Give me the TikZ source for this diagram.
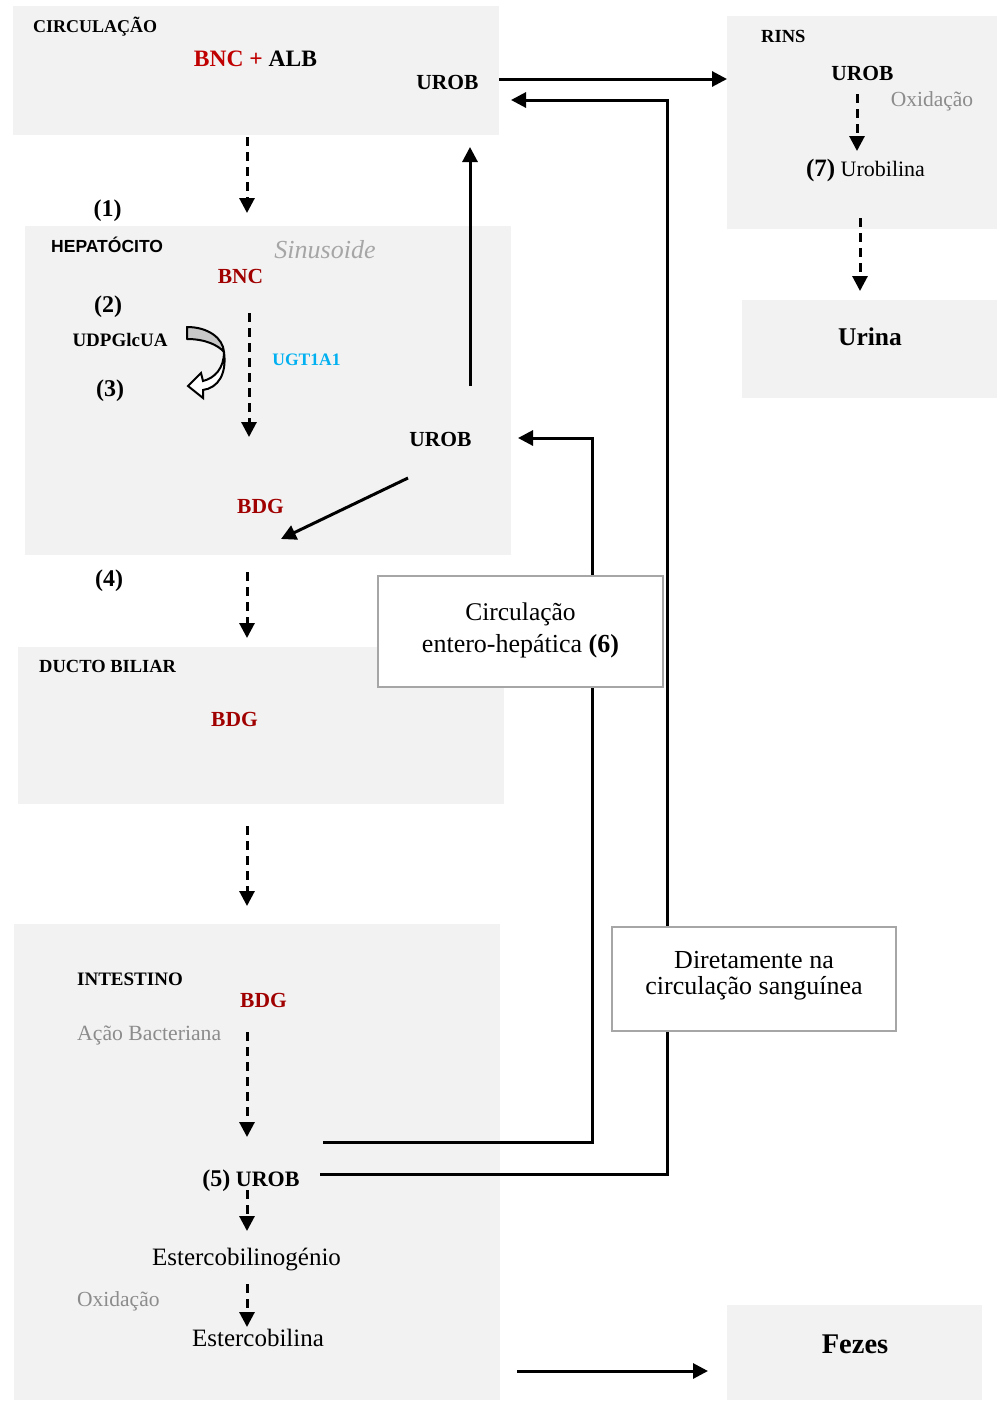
\documentclass[tikz,border=0pt]{standalone}
\usepackage{fontspec}
\setmainfont{Liberation Serif}
\newfontfamily\sansfont{Liberation Sans}
\usetikzlibrary{arrows.meta}
\definecolor{bgc}{HTML}{F2F2F2}
\definecolor{redA}{HTML}{C00000}
\definecolor{redB}{HTML}{A00000}
\definecolor{cyanc}{HTML}{00B0F0}
\definecolor{grayt}{HTML}{8C8C8C}
\definecolor{grays}{HTML}{A6A6A6}
\definecolor{bordc}{HTML}{A6A6A6}
\definecolor{arrgray}{HTML}{C8C8C8}
\newcommand\fs[1]{\fontsize{#1}{#1}\selectfont}
\begin{document}
\begin{tikzpicture}[x=1pt,y=-1pt,
  region/.style={fill=bgc, draw=none, inner sep=0pt},
  whitebox/.style={fill=white, draw=bordc, line width=2pt, inner sep=0pt},
  lbl/.style={anchor=base, inner sep=0pt},
  lblw/.style={anchor=base west, inner sep=0pt},
  dasharrow/.style={line width=3pt, dash pattern=on 9pt off 6pt, -{Triangle[length=15pt,width=15pt]}},
  solidarrow/.style={line width=3pt, -{Triangle[length=15pt,width=15pt]}},
]
\useasboundingbox (0,0) rectangle (1003,1401);
% regions
\node[region, minimum width=486pt, minimum height=129pt] (circ) at (256,70.5) {};
\node[region, minimum width=486pt, minimum height=329pt] (hep) at (268,390.5) {};
\node[region, minimum width=486pt, minimum height=157pt] (ducto) at (261,725.5) {};
\node[region, minimum width=486pt, minimum height=476pt] (intest) at (257,1162) {};
\node[region, minimum width=270pt, minimum height=213pt] (rins) at (862,122.5) {};
\node[region, minimum width=255pt, minimum height=98pt] (urinabox) at (869.5,349) {};
\node[region, minimum width=255pt, minimum height=95pt] (fezesbox) at (854.5,1352.5) {};
% coordinates
\coordinate (a1s) at (247,137); \coordinate (a1e) at (247,213);
\coordinate (a2s) at (249,313); \coordinate (a2e) at (249,437);
\coordinate (a3s) at (247,572); \coordinate (a3e) at (247,638);
\coordinate (a4s) at (247,826); \coordinate (a4e) at (247,906);
\coordinate (a5s) at (247,1032); \coordinate (a5e) at (247,1137);
\coordinate (a6s) at (247,1190); \coordinate (a6e) at (247,1231);
\coordinate (a7s) at (247,1284); \coordinate (a7e) at (247,1327);
\coordinate (r1s) at (857,94); \coordinate (r1e) at (857,151);
\coordinate (r2s) at (860,218); \coordinate (r2e) at (860,291);
\coordinate (k1s) at (499,79); \coordinate (k1e) at (727,79);
\coordinate (u1s) at (470,386); \coordinate (u1e) at (470,147);
\coordinate (u2s) at (408,478); \coordinate (u2e) at (281,539);
\coordinate (f1s) at (517,1371); \coordinate (f1e) at (708,1371);
\coordinate (e1s) at (323,1142); \coordinate (e1c) at (592,438); \coordinate (e1e) at (518,438);
\coordinate (d1s) at (320,1174); \coordinate (d1c) at (667,100); \coordinate (d1e) at (511,100);
% connectors
\draw[dasharrow] (a1s) -- (a1e);
\draw[dasharrow] (a2s) -- (a2e);
\draw[dasharrow] (a3s) -- (a3e);
\draw[dasharrow] (a4s) -- (a4e);
\draw[dasharrow] (a5s) -- (a5e);
\draw[dasharrow] (a6s) -- (a6e);
\draw[dasharrow] (a7s) -- (a7e);
\draw[dasharrow] (r1s) -- (r1e);
\draw[dasharrow] (r2s) -- (r2e);
\draw[solidarrow] (k1s) -- (k1e);
\draw[solidarrow] (u1s) -- (u1e);
\draw[solidarrow] (u2s) -- (u2e);
\draw[solidarrow] (f1s) -- (f1e);
\draw[solidarrow] (e1s) -| (e1c) -- (e1e);
\draw[solidarrow] (d1s) -| (d1c) -- (d1e);
% white boxes
\node[whitebox, minimum width=285pt, minimum height=111pt] (entbox) at (520.5,631.5) {};
\node[whitebox, minimum width=284pt, minimum height=104pt] (dirbox) at (754,979) {};
% curved block arrow
\draw[line width=2pt, fill=arrgray, line join=round] (187,327) .. controls (208,327) and (223,338) .. (224,352) .. controls (218,345) and (205,339) .. (187,339) -- cycle;
\draw[line width=2pt, fill=white, line join=miter] (224,352) .. controls (224,368) and (215,378) .. (203,381) -- (201,373) -- (188,386) -- (203,398) -- (203,390) .. controls (218,388) and (227,374) .. (224,352) -- cycle;
% texts
\node[lblw, font=\fs{18}\bfseries] (tcirc) at (33,32) {CIRCULAÇÃO};
\node[lbl, font=\fs{23.5}\bfseries] (bncalb) at (255.5,66) {\textcolor{redA}{BNC +} ALB};
\node[lbl, font=\fs{21.5}\bfseries] (urob1) at (447.5,89) {UROB};
\node[lbl, font=\fs{24}\bfseries] (n1) at (107.5,216) {(1)};
\node[lblw, font=\sansfont\fs{17.5}\bfseries] (thep) at (51,252) {HEPATÓCITO};
\node[lbl, font=\fs{26}\itshape, text=grays] (sinus) at (325,258) {Sinusoide};
\node[lbl, font=\fs{21.5}\bfseries, text=redB] (bnc) at (240.5,283) {BNC};
\node[lbl, font=\fs{24}\bfseries] (n2) at (108,312) {(2)};
\node[lbl, font=\fs{19}\bfseries] (udp) at (120,346) {UDPGlcUA};
\node[lbl, font=\fs{17.5}\bfseries, text=cyanc] (ugt) at (306.5,365.5) {UGT1A1};
\node[lbl, font=\fs{24}\bfseries] (n3) at (110,396) {(3)};
\node[lbl, font=\fs{21.5}\bfseries] (urob2) at (440.5,446.5) {UROB};
\node[lbl, font=\fs{21.5}\bfseries, text=redB] (bdg1) at (260.5,513) {BDG};
\node[lbl, font=\fs{24}\bfseries] (n4) at (109,586) {(4)};
\node[lblw, font=\fs{18.5}\bfseries] (tducto) at (39,672) {DUCTO BILIAR};
\node[lbl, font=\fs{21.5}\bfseries, text=redB] (bdg2) at (234.5,726) {BDG};
\node[lblw, font=\fs{19}\bfseries] (tint) at (77,985) {INTESTINO};
\node[lbl, font=\fs{21.5}\bfseries, text=redB] (bdg3) at (263.5,1007) {BDG};
\node[lblw, font=\fs{21.7}, text=grayt] (acao) at (77,1040.5) {Ação Bacteriana};
\node[lbl, font=\fs{22}\bfseries] (urob3) at (251,1186.5) {{\fs{24}(5)} UROB};
\node[lbl, font=\fs{25}] (esterg) at (246.5,1265.5) {Estercobilinogénio};
\node[lblw, font=\fs{21.5}, text=grayt] (oxi2) at (77,1306) {Oxidação};
\node[lbl, font=\fs{25}] (ester) at (258,1346.5) {Estercobilina};
\node[lblw, font=\fs{18.5}\bfseries] (trins) at (761,42) {RINS};
\node[lbl, font=\fs{21.5}\bfseries] (urob4) at (862.5,80) {UROB};
\node[lbl, font=\fs{21.5}, text=grayt] (oxi1) at (932,106.5) {Oxidação};
\node[lbl, font=\fs{22}] (urobil) at (865.5,176.5) {{\fs{25}\bfseries (7)} Urobilina};
\node[lbl, font=\fs{25.5}\bfseries] (urina) at (870,345) {Urina};
\node[lbl, font=\fs{28.5}\bfseries] (fezes) at (855,1353) {Fezes};
\node[lbl, font=\fs{25.5}] (ce1) at (520.5,620) {Circulação};
\node[lbl, font=\fs{26}] (ce2) at (520.5,652) {entero-hepática \textbf{(6)}};
\node[lbl, font=\fs{26}] (dt1) at (754,968) {Diretamente na};
\node[lbl, font=\fs{26}] (dt2) at (754,994) {circulação sanguínea};
\end{tikzpicture}
\end{document}
